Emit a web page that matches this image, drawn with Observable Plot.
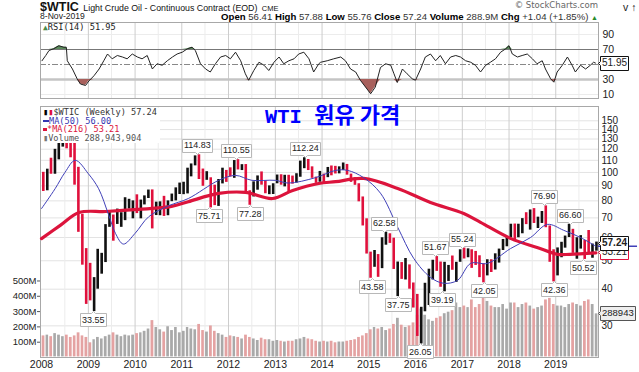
<!DOCTYPE html>
<html><head><meta charset="utf-8">
<script src="https://cdn.jsdelivr.net/npm/d3@7"></script>
<script src="https://cdn.jsdelivr.net/npm/@observablehq/plot@0.6"></script>
<style>
body{margin:0;background:#fff;}
#chart{position:relative;width:639px;height:372px;overflow:hidden;font-family:"Liberation Sans",Arial,sans-serif;}
.abs{position:absolute;white-space:nowrap;}
</style></head><body><div id="chart"></div>
<script>
// ---------- monthly price data (Jan 2008 .. Nov 2019) ----------
const priceOpen = [
 96.0,91.8,101.8,101.6,113.5,127.4,140.0,124.1,115.5,100.6,68.1,54.4,
 44.6,41.7,44.8,49.7,51.1,66.3,69.9,69.5,70.0,70.6,77.0,77.3,
 79.4,72.9,79.7,83.8,86.2,74.0,75.6,79.0,71.9,80.0,81.4,84.1,
 91.4,92.2,97.0,106.7,113.9,102.7,95.4,95.7,88.8,79.2,93.2,100.4,
 98.8,98.5,107.1,103.0,104.9,86.5,85.0,88.1,96.5,92.2,86.2,88.9,
 91.8,97.5,92.1,97.2,93.5,92.0,96.6,105.0,107.7,102.3,96.4,92.7,
 98.4,97.5,102.6,101.6,99.7,102.7,105.4,98.2,96.0,91.2,80.5,66.2,
 53.3,48.2,49.8,47.6,59.6,60.3,59.5,47.1,49.2,45.1,46.6,41.7,
 37.0,33.6,33.8,38.3,45.9,49.1,48.3,41.6,44.7,48.2,46.9,49.4,
 53.7,52.8,54.0,50.6,49.3,48.3,46.0,50.2,47.2,51.7,54.4,57.4,
 60.4,64.7,61.6,64.9,68.6,67.0,74.2,68.8,69.8,73.3,65.3,50.9,
 45.4,53.8,57.2,60.1,63.9,53.5,58.5,58.6,55.1,54.1,54.2];
const priceHigh = [
 100.1,102.6,111.8,119.9,135.1,143.7,147.3,126.5,130.0,104.1,72.0,55.0,
 49.0,43.8,54.7,53.0,66.4,73.4,71.6,75.0,72.9,82.0,81.0,80.0,
 83.9,80.5,83.2,87.1,87.2,79.2,79.4,82.9,80.0,84.4,88.6,92.0,
 92.6,103.4,106.9,113.9,114.83,102.7,100.6,95.9,90.5,94.6,103.4,101.6,
 103.7,109.8,110.55,106.3,106.4,86.6,92.9,97.3,100.4,93.5,90.0,91.5,
 98.0,98.2,97.8,97.8,97.2,99.0,109.3,112.24,110.7,104.5,96.4,100.8,
 98.7,104.0,105.2,104.9,104.5,107.7,106.5,98.7,96.0,91.5,82.5,69.5,
 53.5,54.2,52.5,59.9,62.58,61.8,59.7,49.5,49.3,50.9,48.4,42.0,
 38.4,34.7,41.9,46.8,50.2,51.67,49.5,49.4,48.2,51.9,49.4,54.5,
 55.24,54.9,54.5,53.8,52.0,48.8,50.4,50.4,52.8,54.8,59.1,60.5,
 66.6,66.7,66.6,69.6,72.9,74.5,75.3,70.4,73.6,76.90,65.7,54.5,
 55.3,57.8,60.7,66.60,64.0,59.9,60.9,58.6,63.4,57.0,57.9];
const priceLow = [
 86.1,86.6,98.6,98.6,110.4,122.0,120.4,112.2,90.5,62.5,48.3,35.5,
 36.5,33.55,40.0,45.0,49.3,65.0,58.3,66.5,65.0,68.5,75.0,69.5,
 72.4,69.5,77.5,81.5,64.2,71.3,71.2,70.8,71.2,79.5,80.0,84.1,
 84.0,84.5,96.6,105.3,94.6,89.7,94.0,75.71,77.1,76.6,91.4,92.5,
 96.5,95.5,102.0,101.5,86.0,77.28,82.5,87.0,90.5,84.6,84.0,84.1,
 91.5,90.5,89.3,85.6,91.2,92.0,96.3,103.0,101.5,95.5,91.8,92.6,
 91.2,96.0,97.4,98.8,98.9,101.6,97.9,92.5,90.4,79.4,65.7,52.7,
 43.58,47.5,43.9,47.0,56.5,57.3,46.7,37.75,43.2,43.0,40.0,34.5,
 27.6,26.05,33.5,35.2,43.0,46.0,40.6,39.19,42.5,46.4,42.2,49.4,
 50.7,51.2,47.1,48.2,43.8,42.05,44.4,45.6,46.5,49.1,54.2,55.8,
 59.9,58.1,59.9,61.8,66.4,63.6,67.0,64.4,67.0,64.8,49.4,42.36,
 44.4,51.2,55.2,60.0,53.0,50.6,54.8,50.52,52.9,51.0,53.9];
const priceClose = [
 91.8,101.8,101.6,113.5,127.4,140.0,124.1,115.5,100.6,68.1,54.4,44.6,
 41.7,44.8,49.7,51.1,66.3,69.9,69.5,70.0,70.6,77.0,77.3,79.4,
 72.9,79.7,83.8,86.2,74.0,75.6,79.0,71.9,80.0,81.4,84.1,91.4,
 92.2,97.0,106.7,113.9,102.7,95.4,95.7,88.8,79.2,93.2,100.4,98.8,
 98.5,107.1,103.0,104.9,86.5,85.0,88.1,96.5,92.2,86.2,88.9,91.8,
 97.5,92.1,97.2,93.5,92.0,96.6,105.0,107.7,102.3,96.4,92.7,98.4,
 97.5,102.6,101.6,99.7,102.7,105.4,98.2,96.0,91.2,80.5,66.2,53.3,
 48.2,49.8,47.6,59.6,60.3,59.5,47.1,49.2,45.1,46.6,41.7,37.0,
 33.6,33.8,38.3,45.9,49.1,48.3,41.6,44.7,48.2,46.9,49.4,53.7,
 52.8,54.0,50.6,49.3,48.3,46.0,50.2,47.2,51.7,54.4,57.4,60.4,
 64.7,61.6,64.9,68.6,67.0,74.2,68.8,69.8,73.3,65.3,50.9,45.4,
 53.8,57.2,60.1,63.9,53.5,58.5,58.6,55.1,54.1,54.2,57.24];
// weekly volume level per month (millions)
const volumeM = [
 145,150,140,160,150,140,150,135,145,165,145,135,
 100,120,135,125,140,150,165,150,140,150,145,150,
 160,165,175,190,245,200,185,170,205,180,200,165,
 175,200,190,185,220,180,170,210,175,160,150,135,
 145,140,135,125,150,135,125,115,130,120,120,110,
 115,110,105,110,110,120,125,135,125,120,110,105,
 110,105,110,100,105,105,110,115,120,135,145,160,
 185,200,190,200,180,190,220,260,215,200,210,230,
 280,320,280,250,240,260,270,290,300,310,360,330,
 340,330,380,330,350,390,370,340,330,330,350,320,
 360,360,330,350,360,340,320,330,340,380,390,350,
 340,340,330,350,360,350,340,370,380,350,289];

// ---------- moving averages ----------
const ma50Years = [2008.0,2008.29,2008.5,2008.72,2009.0,2009.22,2009.43,2009.58,2009.75,2010.0,2010.29,2010.72,2011.14,2011.79,2012.15,2012.5,2013.0,2013.28,2013.86,2014.29,2014.55,2014.89,2015.25,2015.62,2015.96,2016.32,2016.6,2016.9,2017.18,2017.54,2018.03,2018.46,2018.82,2019.17,2019.53,2019.86];
const ma50Values = [75.3,88,100,110,99,88,72,62,57,62,70.6,77,81.5,94,97.7,94,94,92,96,101.6,101.6,96,85,65,51,43.9,41.9,42.9,49,49,55,60,66.5,63.5,60,56.0];
const ma216Years = [2008.0,2008.4,2008.8,2009.37,2010.07,2010.78,2011.14,2011.79,2012.36,2012.94,2013.37,2013.93,2014.29,2014.89,2015.62,2016.32,2017.03,2017.39,2018.03,2018.6,2019.04,2019.3,2019.86];
const ma216Values = [59.5,66,73,73.6,74.8,76.6,79.5,84.8,85.5,81.5,86.8,91.7,93,95.4,88.2,79,72.5,67.6,59.6,55.5,52.6,52.6,53.21];

// ---------- RSI(14) ----------
const rsiYears = [2008.01,2008.09,2008.16,2008.26,2008.37,2008.48,2008.53,2008.55,2008.66,2008.76,2008.83,2008.94,2009.01,2009.12,2009.23,2009.33,2009.41,2009.51,2009.62,2009.73,2009.83,2009.94,2010.05,2010.15,2010.26,2010.37,2010.47,2010.58,2010.69,2010.80,2010.90,2011.01,2011.12,2011.22,2011.29,2011.40,2011.51,2011.61,2011.72,2011.83,2011.94,2012.04,2012.15,2012.26,2012.36,2012.43,2012.54,2012.65,2012.76,2012.86,2012.97,2013.08,2013.18,2013.29,2013.40,2013.50,2013.61,2013.72,2013.82,2013.93,2013.97,2014.11,2014.25,2014.40,2014.50,2014.61,2014.72,2014.82,2014.93,2015.04,2015.14,2015.25,2015.36,2015.47,2015.54,2015.61,2015.72,2015.82,2015.93,2016.00,2016.11,2016.21,2016.32,2016.43,2016.53,2016.64,2016.75,2016.86,2016.96,2017.07,2017.18,2017.28,2017.39,2017.50,2017.60,2017.71,2017.82,2017.93,2018.00,2018.07,2018.18,2018.28,2018.39,2018.50,2018.60,2018.71,2018.78,2018.89,2018.96,2019.03,2019.14,2019.25,2019.35,2019.42,2019.53,2019.64,2019.74,2019.81,2019.85];
const rsiValues = [55,62,68.7,71,75,73,73,55,44,31,24,22,28,35,44,55,64,57.6,62,60,57.6,64,60,57.6,62,44,51,49,55,60,64,66.4,71,73,68.7,51,44,40,51,60,62,57.6,66.4,55,37.6,29,42,53,49,42,53,60,51,55,57.6,64,66.4,57.6,40,51,53,55,57.6,60,55,44,40,29,20,11,20,46,51,49,37.6,26,44,37.6,31,29,44,60,64,55,62,51,60,62,60,55,53,49,40,49,53,57.6,66.4,71,75,64,60,62,64,57.6,51,55,44,31,26.4,40,49,60,49,40,49,44,49,53,51.95];

// ---------- labelled highs / lows ----------
const peakDates = ["2011-05-02","2012-03-01","2013-08-28","2015-05-06","2016-06-09","2017-01-03","2018-10-03","2019-04-23"];
const peakValues = [114.83,110.55,112.24,62.58,51.67,55.24,76.90,66.60];
const troughDates = ["2009-02-12","2011-08-09","2012-06-21","2015-01-28","2015-08-24","2016-02-11","2016-08-02","2017-06-21","2018-12-24","2019-08-07"];
const troughValues = [33.55,75.71,77.28,43.58,37.75,26.05,39.19,42.05,42.36,50.52];

const priceTicks = [30,40,50,60,70,80,90,100,110,120,130,140,150];
const volumeTicks = [100,200,300,400,500];
const rsiTicks = [10,30,70,90];

// ---------- build tables ----------
const months = d3.utcMonth.range(new Date(Date.UTC(2008,0,1)), new Date(Date.UTC(2019,11,1)));
const bars = months.map((m,i)=>({
  start:m, end:d3.utcMonth.offset(m,1), mid:d3.utcDay.offset(m,14),
  open:priceOpen[i], high:priceHigh[i], low:priceLow[i], close:priceClose[i],
  vol:volumeM[i], up:priceClose[i]>=priceOpen[i]}));
function yearToDate(y){const yr=Math.floor(y);const s=Date.UTC(yr,0,1),e=Date.UTC(yr+1,0,1);return new Date(s+(y-yr)*(e-s));}
const ma50 = ma50Years.map((y,i)=>({date:yearToDate(y),v:ma50Values[i]}));
const ma216 = ma216Years.map((y,i)=>({date:yearToDate(y),v:ma216Values[i]}));
const rsi = rsiYears.map((y,i)=>({date:yearToDate(y),v:rsiValues[i]}));
const peaks = peakDates.map((d,i)=>({date:new Date(d),v:peakValues[i],label:peakValues[i].toFixed(2)}));
const troughs = troughDates.map((d,i)=>({date:new Date(d),v:troughValues[i],label:troughValues[i].toFixed(2)}));

const W=639,H=372;
const xDomain=[new Date(Date.UTC(2007,11,24)), new Date(Date.UTC(2019,11,1))];
const endDate = xDomain[1];
const yearTicks = d3.utcYear.range(new Date(Date.UTC(2008,0,1)), new Date(Date.UTC(2020,0,1)));
const halfYears = yearTicks.map(d=>d3.utcMonth.offset(d,6));
const priceDomain=[23.4,167.8];
const FONT='"Liberation Sans Narrow","Liberation Sans",Arial,sans-serif';
const main={width:W,height:H,marginTop:106,marginBottom:15,marginLeft:40,marginRight:41};
const xOpt={type:"utc",domain:xDomain,axis:null};
const chart=document.getElementById("chart");
function place(svg,top){svg.style.position="absolute";svg.style.left="0px";svg.style.top=top+"px";chart.appendChild(svg);}
const st=(bg)=>({background:bg,overflow:"visible",fontFamily:FONT,fontSize:"10px",color:"#222"});

// grid layer
place(Plot.plot({...main,x:xOpt,y:{type:"log",domain:priceDomain,axis:null},style:st("white"),marks:[
  Plot.ruleY(priceTicks,{stroke:"#e3e3e3"}),
  Plot.ruleX(halfYears,{stroke:"#ececec"}),
  Plot.ruleX(yearTicks.slice(1),{stroke:"#cdcdcd"}),
  Plot.frame({stroke:"#a8a8a8"})
]}),0);

// volume layer
place(Plot.plot({...main,x:xOpt,y:{domain:[0,1640],axis:null},style:st("transparent"),marks:[
  Plot.rectY(bars.filter(d=>d.up),{x1:"start",x2:"end",y:"vol",fill:"#a9a9a9",inset:0.6}),
  Plot.rectY(bars.filter(d=>!d.up),{x1:"start",x2:"end",y:"vol",fill:"#e4a2a2",inset:0.6}),
  Plot.axisY({anchor:"left",ticks:volumeTicks,tickFormat:d=>d+"M",tickSize:3,tickPadding:1,fontSize:9.5,stroke:"#555"}),
  Plot.axisX({ticks:yearTicks,tickFormat:"%Y",tickSize:0,tickPadding:3,fontSize:10.5}),
  Plot.tip([{date:endDate,v:288.943}],{x:"date",y:"v",title:()=>"288943",anchor:"left",fontSize:9.5,textPadding:1.5,pointerSize:4,fill:"#eee",stroke:"#555",pathFilter:"none"})
]}),0);

// price layer
place(Plot.plot({...main,x:xOpt,y:{type:"log",domain:priceDomain,axis:null},style:st("transparent"),marks:[
  Plot.ruleX(bars.filter(d=>d.up),{x:"mid",y1:"low",y2:"high",stroke:"#111",strokeWidth:2.6}),
  Plot.ruleX(bars.filter(d=>!d.up),{x:"mid",y1:"low",y2:"high",stroke:"#e0103c",strokeWidth:2.6}),
  Plot.line(ma216,{x:"date",y:"v",stroke:"#dc143c",strokeWidth:3.2,curve:"catmull-rom"}),
  Plot.line(ma50,{x:"date",y:"v",stroke:"#4040b8",strokeWidth:1,curve:"catmull-rom"}),
  Plot.axisY({anchor:"right",ticks:priceTicks,tickFormat:d=>String(d),tickSize:0,tickPadding:3,fontSize:10}),
  Plot.tip(peaks,{x:"date",y:"v",title:"label",anchor:"bottom",fontSize:9,textPadding:1.5,pointerSize:4,fill:"white",stroke:"#b8b8b8",pathFilter:"none"}),
  Plot.tip(troughs,{x:"date",y:"v",title:"label",anchor:"top",fontSize:9,textPadding:1.5,pointerSize:4,fill:"white",stroke:"#b8b8b8",pathFilter:"none"}),
  Plot.ruleY([56.0],{x1:endDate,x2:new Date(Date.UTC(2020,9,1)),stroke:"#4040b8",strokeWidth:1.5}),
  Plot.tip([{date:endDate,v:53.21}],{x:"date",y:"v",title:()=>"53.21",anchor:"left",fontSize:10,textPadding:1.5,pointerSize:4,fill:"white",stroke:"#e0103c",pathFilter:"none"}),
  Plot.tip([{date:endDate,v:57.24}],{x:"date",y:"v",title:()=>"57.24",anchor:"left",fontSize:10,fontWeight:"bold",textPadding:1.5,pointerSize:4,fill:"white",stroke:"#111",pathFilter:"none"})
]}),0);

// RSI panel
place(Plot.plot({width:W,height:100,marginTop:22,marginBottom:2,marginLeft:40,marginRight:41,x:xOpt,y:{domain:[4.67,106],axis:null},style:st("transparent"),marks:[
  Plot.ruleY([90,10],{stroke:"#ececec"}),
  Plot.ruleX(halfYears,{stroke:"#ececec"}),
  Plot.ruleX(yearTicks.slice(1),{stroke:"#cdcdcd"}),
  Plot.ruleY([30],{stroke:"#c4c4c4",strokeWidth:2.5}),
  Plot.ruleY([70],{stroke:"#777"}),
  Plot.ruleY([50],{stroke:"#888",strokeDasharray:"6,2,2,2"}),
  Plot.areaY(rsi,{x:"date",y1:70,y2:d=>Math.max(d.v,70),fill:"#5b8a5b"}),
  Plot.areaY(rsi,{x:"date",y1:d=>Math.min(d.v,30),y2:30,fill:"#a8605c"}),
  Plot.line(rsi,{x:"date",y:"v",stroke:"#222",strokeWidth:1}),
  Plot.frame({stroke:"#a8a8a8"}),
  Plot.axisY({anchor:"right",ticks:rsiTicks,tickSize:0,tickPadding:4,fontSize:10.5}),
  Plot.tip([{date:endDate,v:51.95}],{x:"date",y:"v",title:()=>"51.95",anchor:"left",fontSize:10,textPadding:1.5,pointerSize:4,fill:"white",stroke:"#111",pathFilter:"none"})
]}),0);

// ---------- text overlays ----------
function addHTML(html){const d=document.createElement("div");d.innerHTML=html;while(d.firstChild)chart.appendChild(d.firstChild);}
addHTML(`
<div class="abs" style="left:40px;top:-1.5px;line-height:13px;color:#111">
 <span style="font:bold 12.5px 'Liberation Sans',Arial">$WTIC</span>
 <span style="font:8.8px 'Liberation Sans',Arial">Light Crude Oil - Continuous Contract (EOD)</span>
 <span style="font:7.5px 'Liberation Sans',Arial">CME</span></div>
<div class="abs" style="right:41px;top:0px;font:8.5px 'DejaVu Sans',sans-serif;line-height:10px;color:#666">© StockCharts.com</div>
<div class="abs" style="left:40px;top:11.5px;font:8.6px 'Liberation Sans',Arial;line-height:9px;color:#222">8-Nov-2019</div>
<div class="abs" style="right:41px;top:10.5px;font:9.6px 'Liberation Sans',Arial;line-height:11px;color:#333">
 <b style="color:#000">Open</b> 56.41 <b style="color:#000">High</b> 57.88 <b style="color:#000">Low</b> 55.76 <b style="color:#000">Close</b> 57.24 <b style="color:#000">Volume</b> 288.9M <b style="color:#000">Chg</b> +1.04 (+1.85%) <span style="color:#2a8a2a;font-size:7px">▲</span></div>
<div class="abs" style="left:43px;top:22px;font:8.7px 'DejaVu Sans Mono',monospace;line-height:10px;color:#222"><span style="color:#4a8a4a;font-size:8px">▲</span>RSI(14) 51.95</div>
<div class="abs" style="left:41px;top:108px;background:#fff;padding:0 3px 1px 2px;font:8.6px 'DejaVu Sans Mono',monospace;line-height:8.6px;color:#333">
 <div><span style="color:#000;font-weight:bold">▮</span><span style="color:#e0103c;font-weight:bold">▮</span>$WTIC (Weekly) 57.24</div>
 <div style="color:#3535b0"><span style="display:inline-block;width:6px;height:1.5px;background:#3535b0;vertical-align:middle"></span>MA(50) 56.00</div>
 <div style="color:#dc143c"><span style="display:inline-block;width:4px;height:3px;background:#dc143c;vertical-align:middle"></span>*MA(216) 53.21</div>
 <div style="color:#555"><span style="color:#777">▮</span>Volume 288,943,904</div>
</div>
<div class="abs" style="left:265px;top:101px;line-height:24px;color:#0000ff;font-size:20.5px">
 <span style="font-family:'Liberation Mono',monospace;font-weight:bold">WTI</span><span style="font-family:'Liberation Mono',monospace"> </span><span style="font-family:'Noto Sans CJK KR',sans-serif;font-size:22px;font-weight:bold">원유 가격</span></div>
`);
</script></body></html>
